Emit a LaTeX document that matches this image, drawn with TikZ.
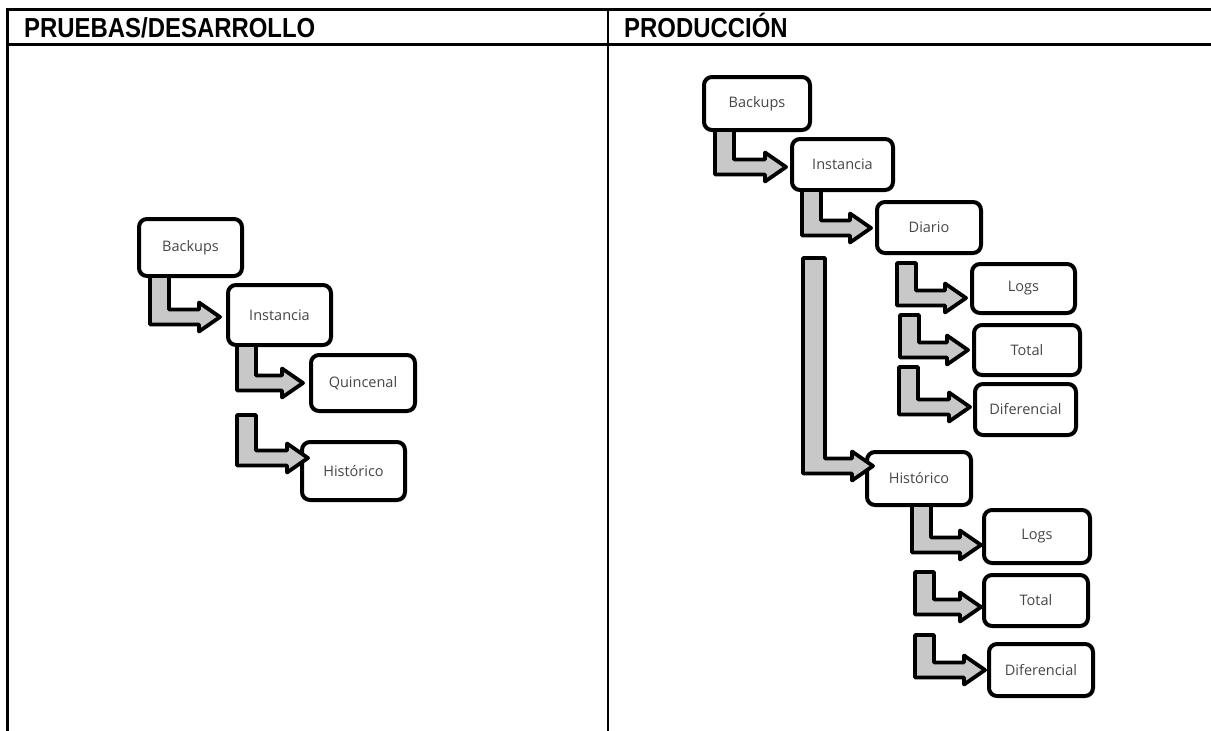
\documentclass[tikz,border=0pt]{standalone}
\usepackage{fontspec}
\setmainfont{Open Sans}
\newfontfamily\headfont[FakeStretch=0.87]{Liberation Sans}
\usetikzlibrary{calc}

\definecolor{shaftgray}{RGB}{200,200,200}
\definecolor{labelgray}{RGB}{70,70,70}

\tikzset{
  rule/.style={line width=2.7pt, line cap=rect},
  folder/.style 2 args={draw=black, line width=4pt, rounded corners=8pt,
    fill=white, minimum width=#1, minimum height=#2, inner sep=0pt,
    outer sep=0pt, text=labelgray, font=\fontsize{14.5}{16}\selectfont},
  bentshape/.style={draw=black, fill=shaftgray, line width=3.8pt,
    line join=round},
  headtext/.style={anchor=base west, inner sep=0pt,
    font=\headfont\bfseries\fontsize{27.5}{30}\selectfont}
}

% L-shaped block arrow: [shaft width]{top-left of the shaft}{tip}
\newcommand\bentarrow[3][19pt]{%
  \draw[bentshape] let \p1=#2, \p2=#3 in
    (\x1,\y1) -- (\x1+#1,\y1) -- (\x1+#1,\y2+7.5pt) -- (\x2-21pt,\y2+7.5pt)
    -- (\x2-21pt,\y2+14.5pt) -- (\x2,\y2) -- (\x2-21pt,\y2-14.5pt)
    -- (\x2-21pt,\y2-7.5pt) -- (\x1,\y2-7.5pt) -- cycle;}

\begin{document}
\begin{tikzpicture}[x=1pt,y=-1pt]
\useasboundingbox (0,0) rectangle (1211,731);

% table grid
\draw[rule] (7.7,9.5) -- (1211,9.5);
\draw[rule] (7.7,44.5) -- (1211,44.5);
\draw[rule] (7.7,9.5) -- (7.7,731);
\draw[rule] (608,9.5) -- (608,731);

\node[headtext] (hdev) at (24,37) {PRUEBAS/DESARROLLO};
\node[headtext] (hprod) at (624,37) {PRODUCCIÓN};

% ---- test / development tree ----
\node[folder={103pt}{57pt}] (LB) at (190.5,247.5) {Backups};
\node[folder={103pt}{60pt}] (LI) at (279.5,315) {Instancia};
\node[folder={104pt}{56pt}] (LQ) at (363,383) {Quincenal};
\node[folder={103pt}{58pt}] (LH) at (353.5,471) {Histórico};

\coordinate (a3s) at (237,415);
\bentarrow{($(LB.south west)+(11,0)$)}{($(LI.west)+(-8,2)$)}
\bentarrow{($(LI.south west)+(9,0)$)}{($(LQ.west)+(-8,0)$)}
\bentarrow{(a3s)}{($(LH.west)+(6,-13)$)}

% ---- production tree ----
\node[folder={106pt}{53pt}] (RB) at (757,103.5) {Backups};
\node[folder={101pt}{51pt}] (RI) at (842.5,164.5) {Instancia};
\node[folder={104pt}{51pt}] (RD) at (929,227.5) {Diario};
\node[folder={103pt}{49pt}] (RL1) at (1023.5,288.5) {Logs};
\node[folder={106pt}{50pt}] (RT1) at (1027,350) {Total};
\node[folder={101pt}{51pt}] (RF1) at (1025.5,409.5) {Diferencial};
\node[folder={104pt}{53pt}] (RH) at (919,478.5) {Histórico};
\node[folder={106pt}{53pt}] (RL2) at (1037,536.5) {Logs};
\node[folder={104pt}{51pt}] (RT2) at (1036,600.5) {Total};
\node[folder={104pt}{52pt}] (RF2) at (1041,670) {Diferencial};

\coordinate (b3s) at (803,258);
\coordinate (b4s) at (897,263);
\coordinate (b5s) at (900,315);
\coordinate (b6s) at (899,367);
\coordinate (b8s) at (915,572);
\coordinate (b9s) at (915,635);

\bentarrow{($(RB.south west)+(11,0)$)}{($(RI.west)+(-6,2.5)$)}
\bentarrow{($(RI.south west)+(10,0)$)}{($(RD.west)+(-6,0.5)$)}
\bentarrow[22pt]{(b3s)}{($(RH.west)+(6,-12.5)$)}
\bentarrow{(b4s)}{($(RL1.west)+(-6,9.5)$)}
\bentarrow{(b5s)}{($(RT1.west)+(-6,0)$)}
\bentarrow{(b6s)}{($(RF1.west)+(-5,-2.5)$)}
\bentarrow{($(RH.south west)+(45,0)$)}{($(RL2.west)+(-3,8.5)$)}
\bentarrow{(b8s)}{($(RT2.west)+(-3,6.5)$)}
\bentarrow{(b9s)}{($(RF2.west)+(-4,0)$)}
\end{tikzpicture}
\end{document}
